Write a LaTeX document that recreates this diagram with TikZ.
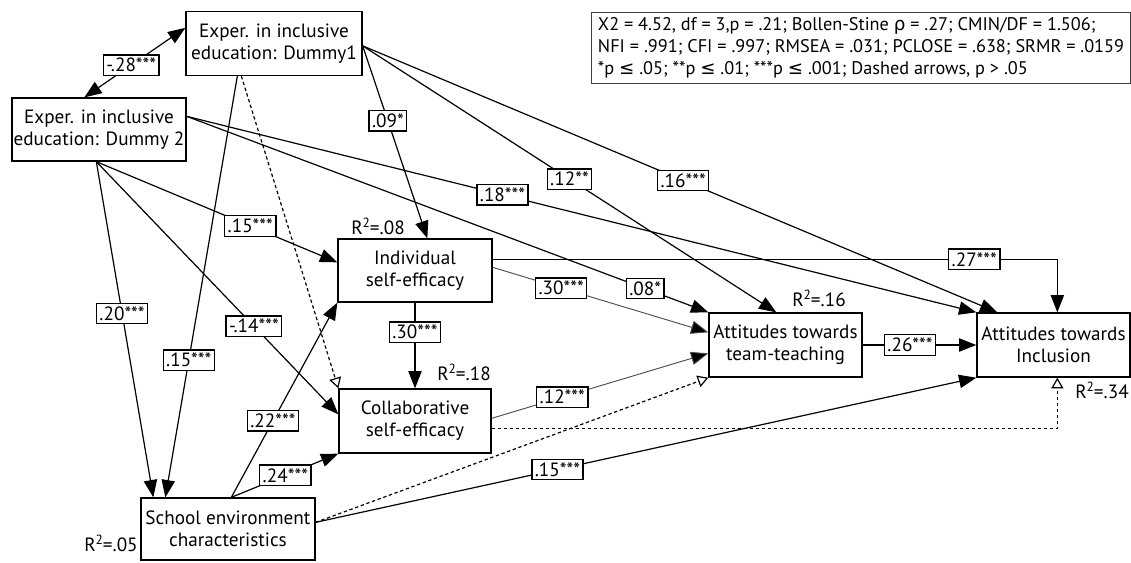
\documentclass[tikz,border=0pt]{standalone}
\usepackage{fontspec}
\setmainfont{PT Sans}
\newfontfamily\symf{DejaVu Sans}
\usetikzlibrary{arrows.meta,calc}
\newcommand{\mainsz}{\fontsize{14.4}{16.5}\selectfont}
\newcommand{\statsz}{\fontsize{13.7}{16.5}\selectfont}
\newcommand{\Rsq}[1]{R\textsuperscript{2}\kern-0.5pt=#1}
\tikzset{
  box/.style={draw, line width=1pt, fill=white, align=center, font=\mainsz, inner sep=0pt},
  lbl/.style={draw, fill=white, line width=1pt, font=\mainsz, inner xsep=2.2pt, inner ysep=2.4pt},
  rsq/.style={font=\mainsz, inner sep=0pt},
  arr/.style={line width=0.9pt, -{Triangle[length=13pt,width=10pt]}},
  garr/.style={line width=0.7pt, draw=black!70, -{Triangle[length=13pt,width=10pt,fill=black]}},
  darr/.style={line width=0.9pt, dash pattern=on 2.5pt off 2pt, -{Triangle[open,length=8pt,width=9pt]}},
  biarr/.style={line width=0.9pt, {Triangle[length=13pt,width=10pt]}-{Triangle[length=13pt,width=10pt]}}
}
\begin{document}
\begin{tikzpicture}[x=0.75pt,y=-0.75pt]
\useasboundingbox (0,0) rectangle (1131,562);

% boxes
\node[box, minimum width=132pt, minimum height=48pt] (D1) at (274,43.5) {Exper. in inclusive\\education: Dummy1};
\node[box, minimum width=130.5pt, minimum height=47.25pt] (D2) at (99,129.5) {Exper. in inclusive\\education: Dummy 2};
\node[box, minimum width=115.5pt, minimum height=47.25pt] (IS) at (415,270.5) {Individual\\self-efficacy};
\node[box, minimum width=114pt, minimum height=48pt] (CS) at (415,421) {Collaborative\\self-efficacy};
\node[box, minimum width=130.5pt, minimum height=46.5pt] (SE) at (228,529) {School environment\\characteristics};
\node[box, minimum width=114.75pt, minimum height=48pt] (TT) at (785.5,345) {Attitudes towards\\team-teaching};
\node[box, minimum width=114.75pt, minimum height=48pt] (AI) at (1053.5,345) {Attitudes towards\\Inclusion};

\node[draw=black!75, line width=0.8pt, anchor=north west, minimum width=404.25pt, minimum height=53.25pt,
      align=left, font=\statsz, inner xsep=3.5pt] (ST) at (591,12)
 {X2 = 4.52, df = 3,p = .21; Bollen-Stine {\symf ρ} = .27; CMIN/DF = 1.506;\\
  NFI = .991; CFI = .997; RMSEA = .031; PCLOSE = .638; SRMR = .0159\\
  *p {\symf ≤} .05; **p {\symf ≤} .01; ***p {\symf ≤} .001; Dashed arrows, p > .05};

% R squared
\node[rsq] (r1) at (378,226) {\Rsq{.08}};
\node[rsq] (r2) at (464,372) {\Rsq{.18}};
\node[rsq] (r3) at (819,298) {\Rsq{.16}};
\node[rsq] (r4) at (1102,390) {\Rsq{.34}};
\node[rsq] (r5) at (111,543) {\Rsq{.05}};

% anchor points
\coordinate (d1r) at ($(D1.north east)+(0,35)$);
\coordinate (d1b) at ($(D1.south west)+(52,0)$);
\coordinate (d1bd) at ($(D1.south west)+(56,0)$);
\coordinate (d1l) at ($(D1.north west)+(0,17)$);
\coordinate (d2b) at ($(D2.south west)+(85,0)$);
\coordinate (d2r) at ($(D2.north east)+(0,19)$);
\coordinate (d2t) at ($(D2.north west)+(73,0)$);
\coordinate (isr1) at ($(IS.north east)+(0,21)$);
\coordinate (isr2) at ($(IS.north east)+(0,29)$);
\coordinate (cse1) at ($(CS.north east)+(0,30)$);
\coordinate (cse2) at ($(CS.north east)+(0,40)$);
\coordinate (ser) at ($(SE.north east)+(0,25)$);
\coordinate (set) at ($(SE.north west)+(91,0)$);
\coordinate (aitop) at ($(AI.north west)+(81,0)$);
\coordinate (aibot) at ($(AI.south west)+(81,0)$);
\coordinate (bend1) at (aitop |- isr1);
\coordinate (bend2) at (aibot |- cse2);

% edges
\draw[biarr] (d1l) -- node[lbl, pos=0.535] (l28) {-.28***} (d2t);
\draw[arr] (d1r) -- node[lbl, pos=0.39] (l09) {.09*} ($(IS.north west)+(90,0)$);
\draw[arr] (d1r) -- node[lbl, pos=0.5] (l12a) {.12**} ($(TT.north west)+(68,0)$);
\draw[arr] (d1r) -- node[lbl, pos=0.505] (l16) {.16***} ($(AI.north west)+(21,0)$);
\draw[arr] (d1b) -- node[lbl, pos=0.674] (l15a) {.15***} ($(SE.north west)+(25,0)$);
\draw[darr] (d1bd) -- (CS.north west);

\draw[arr] (d2b) -- node[lbl, pos=0.452] (l20) {.20***} ($(SE.north west)+(13,0)$);
\draw[arr] (d2b) -- node[lbl, pos=0.639] (l15b) {.15***} ($(IS.north west)+(0,24)$);
\draw[arr] (d2b) -- node[lbl, pos=0.651] (l14) {-.14***} ($(CS.north west)+(0,26)$);
\draw[arr] (d2r) -- node[lbl, pos=0.879] (l08) {.08*} (TT.north west);
\draw[arr] (d2r) -- node[lbl, pos=0.4] (l18) {.18***} (AI.north west);

\draw[arr] (IS.south) -- node[lbl, pos=0.345] (l30a) {.30***} (CS.north);
\draw[garr] (isr2) -- node[lbl, draw=black, pos=0.318] (l30b) {.30***} ($(TT.north west)+(0,20)$);
\draw[arr] (isr1) -- node[lbl, pos=0.853] (l27) {.27***} (bend1) -- (aitop);

\draw[garr] (cse1) -- node[lbl, draw=black, pos=0.326] (l12b) {.12***} ($(TT.north west)+(0,41)$);
\draw[darr] (cse2) -- (bend2) -- (aibot);

\draw[darr] (ser) -- (TT.south west);
\draw[arr] (ser) -- node[lbl, pos=0.366] (l15c) {.15***} (AI.south west);
\draw[arr] (set) -- node[lbl, pos=0.393] (l22) {.22***} (IS.south west);
\draw[arr] (set) -- node[lbl, pos=0.505] (l24) {.24***} (CS.south west);

\draw[arr] (TT.east) -- node[lbl, pos=0.417] (l26) {.26***} (AI.west);
\end{tikzpicture}
\end{document}
